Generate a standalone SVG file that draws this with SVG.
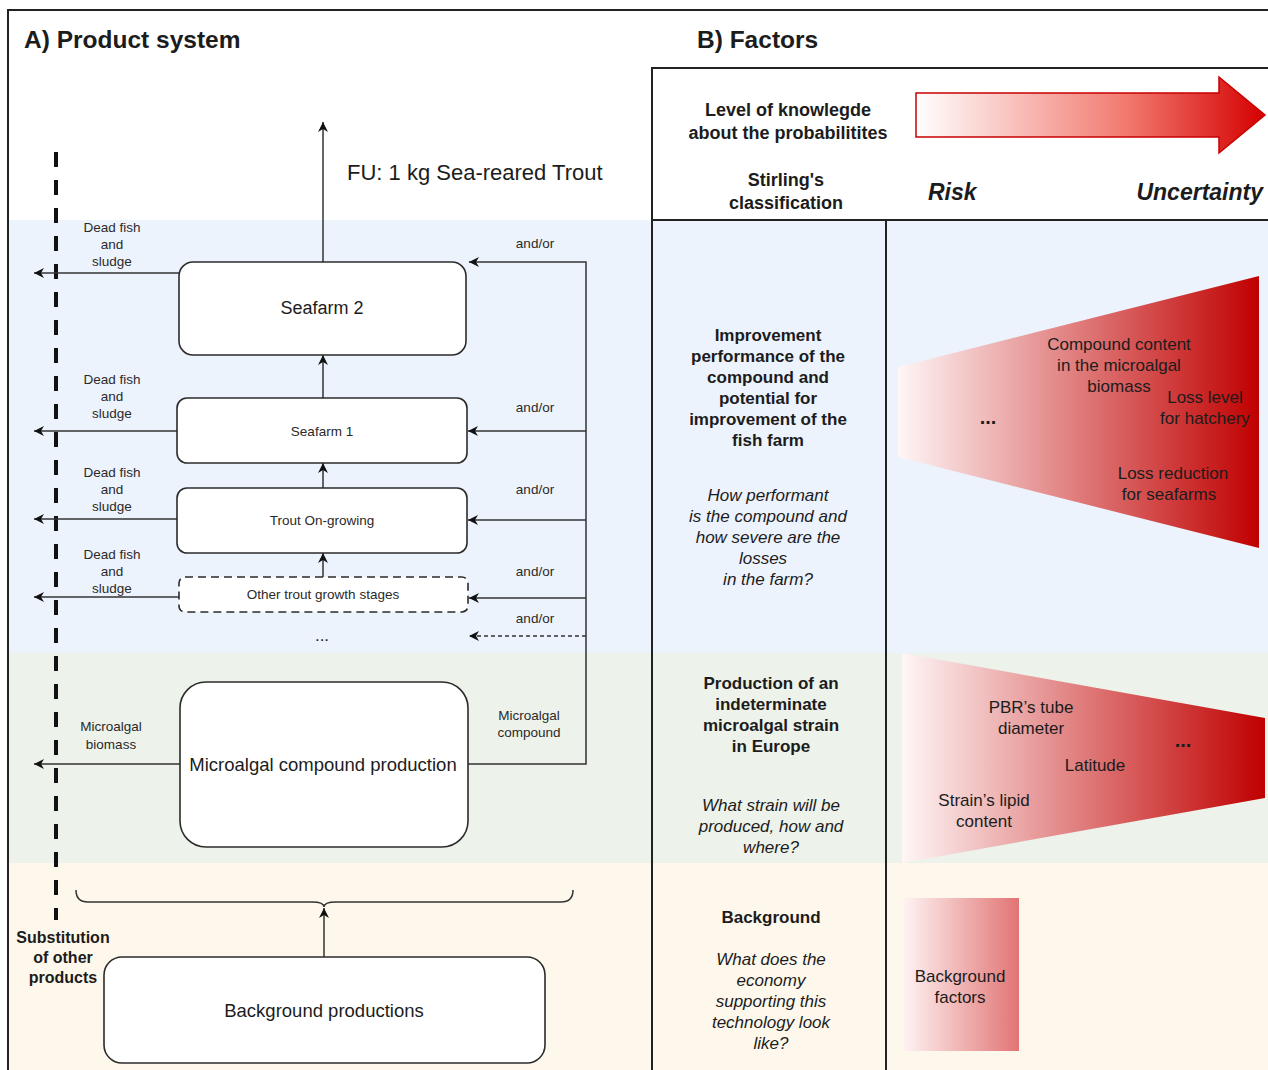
<svg xmlns="http://www.w3.org/2000/svg" width="1268" height="1070" viewBox="0 0 1268 1070">
<defs>
<style>
text{font-family:"Liberation Sans",Arial,sans-serif;fill:#1c1c1c;}
.t{font-size:13.5px;text-anchor:middle;fill:#2a2a2a;}
.m{font-size:18.5px;text-anchor:middle;}
.h{font-size:24.5px;font-weight:bold;}
.hb{font-size:18px;font-weight:bold;text-anchor:middle;}
.b{font-size:17px;font-weight:bold;text-anchor:middle;}
.i{font-size:17px;font-style:italic;text-anchor:middle;}
.r{font-size:17px;text-anchor:middle;}
.d{font-size:20px;font-weight:bold;text-anchor:middle;}
.bi{font-size:23px;font-weight:bold;font-style:italic;}
.box{fill:#fff;stroke:#2b2b2b;stroke-width:1.6;}
.dbox{fill:#fff;stroke:#2b2b2b;stroke-width:1.6;stroke-dasharray:8 5;}
.ln{fill:none;stroke:#333;stroke-width:1.5;}
.frame{fill:none;stroke:#222;stroke-width:2;}
</style>
<marker id="ah" viewBox="0 0 10 10" refX="10" refY="5" markerWidth="10" markerHeight="10" markerUnits="userSpaceOnUse" orient="auto">
<path d="M0,0 L10,5 L0,10 L3,5 z" fill="#111"/>
</marker>
<linearGradient id="gArrow" x1="0" y1="0" x2="1" y2="0">
<stop offset="0" stop-color="#ffffff"/>
<stop offset="0.6" stop-color="#f27a70"/>
<stop offset="1" stop-color="#d40000"/>
</linearGradient>
<linearGradient id="gTrap" x1="0" y1="0" x2="1" y2="0">
<stop offset="0" stop-color="#fff6f6"/>
<stop offset="1" stop-color="#c00000"/>
</linearGradient>
<linearGradient id="gBg" x1="0" y1="0" x2="1" y2="0">
<stop offset="0" stop-color="#fff2f2"/>
<stop offset="1" stop-color="#e27474"/>
</linearGradient>
</defs>

<g id="background">
<rect x="0" y="0" width="1268" height="1070" fill="#fff"/>
<rect x="9" y="220" width="1259" height="433" fill="#edf3fd"/>
<rect x="9" y="653" width="1259" height="210" fill="#edf2ea"/>
<rect x="9" y="863" width="1259" height="207" fill="#fef8ec"/>
</g>

<g id="frame">
<path class="frame" d="M8,1070 L8,10 L1268,10"/>
<path class="frame" d="M652,1070 L652,68 L1268,68 M652,220 L1268,220 M886,220 L886,1070"/>
</g>

<g id="titles">
<text class="h" x="24" y="48">A) Product system</text>
<text class="h" x="697" y="48">B) Factors</text>
<text x="347" y="180" style="font-size:22px">FU: 1 kg Sea-reared Trout</text>
</g>

<g id="connectors">
<line x1="56" y1="152" x2="56" y2="920" stroke="#111" stroke-width="4" stroke-dasharray="15 13"/>
<line class="ln" x1="323" y1="262" x2="323" y2="122" marker-end="url(#ah)"/>
<line class="ln" x1="323" y1="398" x2="323" y2="355" marker-end="url(#ah)"/>
<line class="ln" x1="323" y1="488" x2="323" y2="463" marker-end="url(#ah)"/>
<line class="ln" x1="323" y1="577" x2="323" y2="553" marker-end="url(#ah)"/>
<line class="ln" x1="179" y1="273" x2="34" y2="273" marker-end="url(#ah)"/>
<line class="ln" x1="177" y1="431" x2="34" y2="431" marker-end="url(#ah)"/>
<line class="ln" x1="177" y1="519" x2="34" y2="519" marker-end="url(#ah)"/>
<line class="ln" x1="179" y1="597" x2="34" y2="597" marker-end="url(#ah)"/>
<line class="ln" x1="180" y1="764" x2="34" y2="764" marker-end="url(#ah)"/>
<path class="ln" d="M468,764 L586,764 L586,262 L469,262" marker-end="url(#ah)"/>
<line class="ln" x1="586" y1="431" x2="468" y2="431" marker-end="url(#ah)"/>
<line class="ln" x1="586" y1="520" x2="468" y2="520" marker-end="url(#ah)"/>
<line class="ln" x1="586" y1="598" x2="469" y2="598" marker-end="url(#ah)"/>
<line class="ln" x1="586" y1="636" x2="469" y2="636" stroke-dasharray="4 3" marker-end="url(#ah)"/>
<path class="ln" d="M76,890 Q76,902 88,902 L312,902 Q324,902 324,907 Q324,902 336,902 L561,902 Q573,902 573,890"/>
<line class="ln" x1="324" y1="957" x2="324" y2="908" marker-end="url(#ah)"/>
</g>

<g id="edge-labels">
<text class="t" x="112" y="232">Dead fish</text><text class="t" x="112" y="249">and</text><text class="t" x="112" y="266">sludge</text>
<text class="t" x="112" y="384">Dead fish</text><text class="t" x="112" y="401">and</text><text class="t" x="112" y="418">sludge</text>
<text class="t" x="112" y="477">Dead fish</text><text class="t" x="112" y="494">and</text><text class="t" x="112" y="511">sludge</text>
<text class="t" x="112" y="559">Dead fish</text><text class="t" x="112" y="576">and</text><text class="t" x="112" y="593">sludge</text>
<text class="t" x="535" y="248">and/or</text>
<text class="t" x="535" y="412">and/or</text>
<text class="t" x="535" y="494">and/or</text>
<text class="t" x="535" y="576">and/or</text>
<text class="t" x="535" y="623">and/or</text>
<text x="322" y="641" style="font-size:17px;text-anchor:middle">...</text>
<text class="t" x="111" y="731">Microalgal</text><text class="t" x="111" y="749">biomass</text>
<text class="t" x="529" y="720">Microalgal</text><text class="t" x="529" y="737">compound</text>
<text x="63" y="943" style="font-size:16px;font-weight:bold;text-anchor:middle">Substitution</text>
<text x="63" y="963" style="font-size:16px;font-weight:bold;text-anchor:middle">of other</text>
<text x="63" y="983" style="font-size:16px;font-weight:bold;text-anchor:middle">products</text>
</g>

<g id="seafarm2">
<rect class="box" x="179" y="262" width="287" height="93" rx="14"/>
<text class="m" x="322" y="314" style="font-size:18px">Seafarm 2</text>
</g>
<g id="seafarm1">
<rect class="box" x="177" y="398" width="290" height="65" rx="10"/>
<text class="t" x="322" y="436">Seafarm 1</text>
</g>
<g id="trout-ongrowing">
<rect class="box" x="177" y="488" width="290" height="65" rx="10"/>
<text class="t" x="322" y="525">Trout On-growing</text>
</g>
<g id="other-stages">
<rect class="dbox" x="179" y="577" width="289" height="35" rx="6"/>
<text class="t" x="323" y="599">Other trout growth stages</text>
</g>
<g id="microalgal-production">
<rect class="box" x="180" y="682" width="288" height="165" rx="26"/>
<text class="m" x="323" y="771">Microalgal compound production</text>
</g>
<g id="background-productions">
<rect class="box" x="104" y="957" width="441" height="106" rx="18"/>
<text class="m" x="324" y="1017">Background productions</text>
</g>

<g id="header">
<text class="hb" x="788" y="116">Level of knowlegde</text>
<text class="hb" x="788" y="139">about the probabilitites</text>
<text class="hb" x="786" y="186">Stirling's</text>
<text class="hb" x="786" y="209">classification</text>
<path d="M916,93 L1219,93 L1219,77 L1265,115 L1219,153 L1219,137 L916,137 Z" fill="url(#gArrow)" stroke="#c80000" stroke-width="1.5"/>
<text class="bi" x="928" y="200">Risk</text>
<text class="bi" x="1263" y="200" text-anchor="end">Uncertainty</text>
</g>

<g id="row-improvement">
<text class="b" x="768" y="341">Improvement</text>
<text class="b" x="768" y="362">performance of the</text>
<text class="b" x="768" y="383">compound and</text>
<text class="b" x="768" y="404">potential for</text>
<text class="b" x="768" y="425">improvement of the</text>
<text class="b" x="768" y="446">fish farm</text>
<text class="i" x="768" y="501">How performant</text>
<text class="i" x="768" y="522">is the compound and</text>
<text class="i" x="768" y="543">how severe are the</text>
<text class="i" x="763" y="564">losses</text>
<text class="i" x="768" y="585">in the farm?</text>
<polygon points="898,367 1259,276 1259,548 898,457" fill="url(#gTrap)"/>
<text class="r" x="1119" y="350">Compound content</text>
<text class="r" x="1119" y="371">in the microalgal</text>
<text class="r" x="1119" y="392">biomass</text>
<text class="r" x="1205" y="403">Loss level</text>
<text class="r" x="1205" y="424">for hatchery</text>
<text class="d" x="988" y="424">...</text>
<text class="r" x="1173" y="479">Loss reduction</text>
<text class="r" x="1169" y="500">for seafarms</text>
</g>

<g id="row-production">
<text class="b" x="771" y="689">Production of an</text>
<text class="b" x="771" y="710">indeterminate</text>
<text class="b" x="771" y="731">microalgal strain</text>
<text class="b" x="771" y="752">in Europe</text>
<text class="i" x="771" y="811">What strain will be</text>
<text class="i" x="771" y="832">produced, how and</text>
<text class="i" x="771" y="853">where?</text>
<polygon points="902,653 1265,718 1265,798 902,863" fill="url(#gTrap)"/>
<text class="r" x="1031" y="713">PBR’s tube</text>
<text class="r" x="1031" y="734">diameter</text>
<text class="d" x="1183" y="747">...</text>
<text class="r" x="1095" y="771">Latitude</text>
<text class="r" x="984" y="806">Strain’s lipid</text>
<text class="r" x="984" y="827">content</text>
</g>

<g id="row-background">
<text class="b" x="771" y="923">Background</text>
<text class="i" x="771" y="965">What does the</text>
<text class="i" x="771" y="986">economy</text>
<text class="i" x="771" y="1007">supporting this</text>
<text class="i" x="771" y="1028">technology look</text>
<text class="i" x="771" y="1049">like?</text>
<rect x="904" y="898" width="115" height="153" fill="url(#gBg)"/>
<text class="r" x="960" y="982">Background</text>
<text class="r" x="960" y="1003">factors</text>
</g>
</svg>
